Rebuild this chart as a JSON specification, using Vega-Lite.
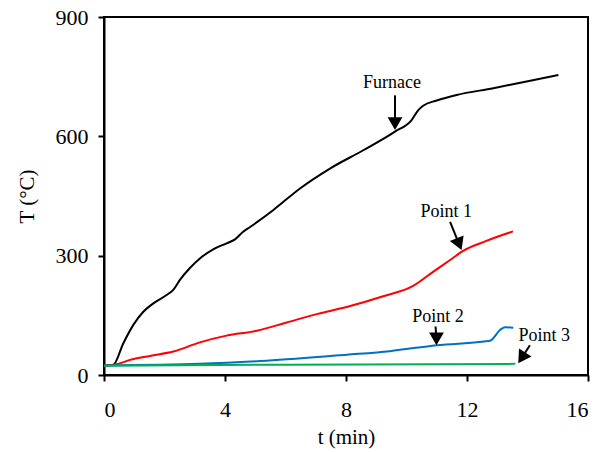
{
  "$schema": "https://vega.github.io/schema/vega-lite/v6.json",
  "width": 484,
  "height": 358,
  "autosize": {"type": "none"},
  "padding": {"left": 104, "top": 17, "right": 12, "bottom": 77},
  "background": "white",
  "config": {
    "view": {"stroke": "black", "strokeWidth": 2},
    "font": "Liberation Serif, DejaVu Serif, serif",
    "axis": {
      "grid": false,
      "domainColor": "black",
      "domainWidth": 2,
      "tickColor": "black",
      "tickWidth": 2,
      "tickSize": 6,
      "labelFont": "Liberation Serif, DejaVu Serif, serif",
      "labelFontSize": 22,
      "labelColor": "black",
      "titleFont": "Liberation Serif, DejaVu Serif, serif",
      "titleFontSize": 21,
      "titleFontWeight": "normal",
      "titleColor": "black"
    }
  },
  "datasets": {
    "series": [
      {"t": 0, "T": 24, "s": "Furnace"},
      {"t": 0.3, "T": 25, "s": "Furnace"},
      {"t": 0.64, "T": 80, "s": "Furnace"},
      {"t": 0.97, "T": 126, "s": "Furnace"},
      {"t": 1.3, "T": 159, "s": "Furnace"},
      {"t": 1.63, "T": 180, "s": "Furnace"},
      {"t": 2.07, "T": 201, "s": "Furnace"},
      {"t": 2.29, "T": 214, "s": "Furnace"},
      {"t": 2.51, "T": 239, "s": "Furnace"},
      {"t": 2.84, "T": 269, "s": "Furnace"},
      {"t": 3.17, "T": 293, "s": "Furnace"},
      {"t": 3.61, "T": 316, "s": "Furnace"},
      {"t": 4.05, "T": 331, "s": "Furnace"},
      {"t": 4.33, "T": 341, "s": "Furnace"},
      {"t": 4.6, "T": 360, "s": "Furnace"},
      {"t": 4.83, "T": 372, "s": "Furnace"},
      {"t": 5.6, "T": 415, "s": "Furnace"},
      {"t": 6.48, "T": 469, "s": "Furnace"},
      {"t": 7.47, "T": 519, "s": "Furnace"},
      {"t": 8.57, "T": 565, "s": "Furnace"},
      {"t": 9.62, "T": 612, "s": "Furnace"},
      {"t": 10.17, "T": 641, "s": "Furnace"},
      {"t": 10.39, "T": 666, "s": "Furnace"},
      {"t": 10.55, "T": 677, "s": "Furnace"},
      {"t": 11.0, "T": 690, "s": "Furnace"},
      {"t": 11.66, "T": 704, "s": "Furnace"},
      {"t": 12.87, "T": 721, "s": "Furnace"},
      {"t": 13.97, "T": 738, "s": "Furnace"},
      {"t": 15.02, "T": 754, "s": "Furnace"},
      {"t": 0, "T": 24, "s": "Point 1"},
      {"t": 0.42, "T": 27, "s": "Point 1"},
      {"t": 0.86, "T": 38, "s": "Point 1"},
      {"t": 1.52, "T": 48, "s": "Point 1"},
      {"t": 2.29, "T": 59, "s": "Point 1"},
      {"t": 3.17, "T": 82, "s": "Point 1"},
      {"t": 4.05, "T": 99, "s": "Point 1"},
      {"t": 5.05, "T": 111, "s": "Point 1"},
      {"t": 6.04, "T": 132, "s": "Point 1"},
      {"t": 7.03, "T": 153, "s": "Point 1"},
      {"t": 8.02, "T": 171, "s": "Point 1"},
      {"t": 9.23, "T": 198, "s": "Point 1"},
      {"t": 10.22, "T": 224, "s": "Point 1"},
      {"t": 10.89, "T": 260, "s": "Point 1"},
      {"t": 11.44, "T": 289, "s": "Point 1"},
      {"t": 11.87, "T": 312, "s": "Point 1"},
      {"t": 12.6, "T": 336, "s": "Point 1"},
      {"t": 13.52, "T": 361, "s": "Point 1"},
      {"t": 0, "T": 24, "s": "Point 2"},
      {"t": 3.17, "T": 28, "s": "Point 2"},
      {"t": 5.37, "T": 36, "s": "Point 2"},
      {"t": 8.02, "T": 51, "s": "Point 2"},
      {"t": 9.45, "T": 60, "s": "Point 2"},
      {"t": 11.0, "T": 75, "s": "Point 2"},
      {"t": 12.76, "T": 86, "s": "Point 2"},
      {"t": 13.09, "T": 113, "s": "Point 2"},
      {"t": 13.26, "T": 120, "s": "Point 2"},
      {"t": 13.53, "T": 119, "s": "Point 2"},
      {"t": 0, "T": 23, "s": "Point 3"},
      {"t": 6, "T": 26, "s": "Point 3"},
      {"t": 13.6, "T": 28, "s": "Point 3"}
    ],
    "labels": [
      {"label": "Furnace", "t": 9.52, "T": 734},
      {"label": "Point 1", "t": 11.31, "T": 410},
      {"label": "Point 2", "t": 11.04, "T": 146},
      {"label": "Point 3", "t": 14.55, "T": 98}
    ],
    "arrows": [
      {"label": "Furnace", "t": 9.62, "T": 703, "t2": 9.62, "T2": 632},
      {"label": "Point 1", "t": 11.44, "T": 385, "t2": 11.74, "T2": 329},
      {"label": "Point 2", "t": 10.96, "T": 122, "t2": 10.99, "T2": 91},
      {"label": "Point 3", "t": 14.08, "T": 75, "t2": 13.81, "T2": 43}
    ]
  },
  "layer": [
    {
      "data": {"name": "series"},
      "mark": {"type": "line", "strokeWidth": 2, "interpolate": "monotone"},
      "encoding": {
        "x": {
          "field": "t", "type": "quantitative",
          "scale": {"domain": [0, 16], "nice": false},
          "axis": {"values": [0, 4, 8, 12, 16], "title": "t (min)", "labelPadding": 18, "titlePadding": 6}
        },
        "y": {
          "field": "T", "type": "quantitative",
          "scale": {"domain": [0, 900], "nice": false},
          "axis": {"values": [0, 300, 600, 900], "title": "T (°C)", "labelPadding": 10, "titlePadding": 18}
        },
        "color": {
          "field": "s", "type": "nominal",
          "scale": {"domain": ["Furnace", "Point 1", "Point 2", "Point 3"], "range": ["#000000", "#ff0000", "#0070c0", "#00b050"]},
          "legend": null
        }
      }
    },
    {
      "data": {"name": "arrows"},
      "mark": {"type": "rule", "color": "black", "strokeWidth": 2},
      "encoding": {
        "x": {"field": "t", "type": "quantitative"},
        "y": {"field": "T", "type": "quantitative"},
        "x2": {"field": "t2"},
        "y2": {"field": "T2"}
      }
    },
    {
      "data": {"name": "arrows"},
      "transform": [{"filter": "datum.label === 'Furnace' || datum.label === 'Point 2'"}],
      "mark": {"type": "point", "shape": "triangle-down", "filled": true, "color": "black", "opacity": 1, "size": 220},
      "encoding": {
        "x": {"field": "t2", "type": "quantitative"},
        "y": {"field": "T2", "type": "quantitative"}
      }
    },
    {
      "data": {"name": "arrows"},
      "transform": [{"filter": "datum.label === 'Point 1'"}],
      "mark": {"type": "point", "shape": "triangle-down", "filled": true, "color": "black", "opacity": 1, "size": 220, "angle": -22},
      "encoding": {
        "x": {"field": "t2", "type": "quantitative"},
        "y": {"field": "T2", "type": "quantitative"}
      }
    },
    {
      "data": {"name": "arrows"},
      "transform": [{"filter": "datum.label === 'Point 3'"}],
      "mark": {"type": "point", "shape": "triangle-down", "filled": true, "color": "black", "opacity": 1, "size": 220, "angle": 33},
      "encoding": {
        "x": {"field": "t2", "type": "quantitative"},
        "y": {"field": "T2", "type": "quantitative"}
      }
    },
    {
      "data": {"name": "labels"},
      "mark": {"type": "text", "font": "Liberation Serif, DejaVu Serif, serif", "fontSize": 18, "color": "black", "align": "center", "baseline": "middle"},
      "encoding": {
        "x": {"field": "t", "type": "quantitative"},
        "y": {"field": "T", "type": "quantitative"},
        "text": {"field": "label"}
      }
    }
  ]
}
